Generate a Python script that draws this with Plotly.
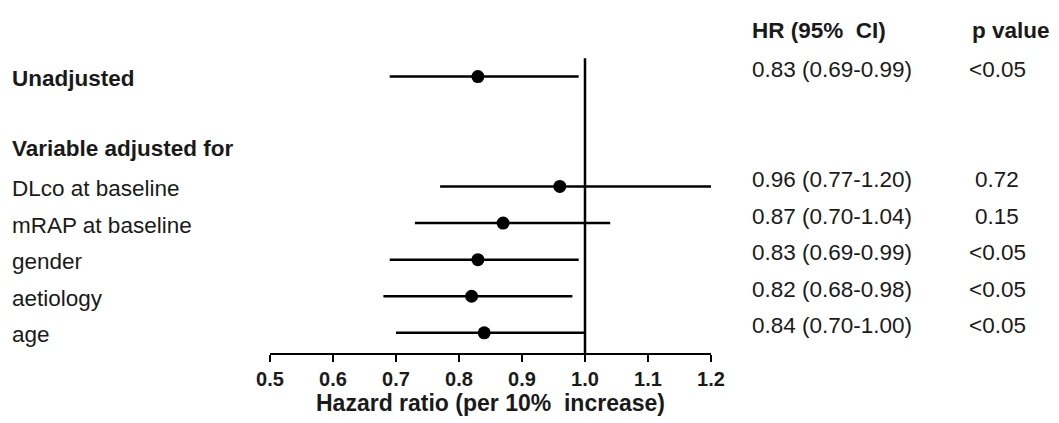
import plotly.graph_objects as go

# ---- data ----
row_labels = ["Unadjusted", "DLco at baseline", "mRAP at baseline", "gender", "aetiology", "age"]
row_bold = [True, False, False, False, False, False]
row_pos = [7, 4, 3, 2, 1, 0]
hr = [0.83, 0.96, 0.87, 0.83, 0.82, 0.84]
ci_low = [0.69, 0.77, 0.73, 0.69, 0.68, 0.70]
ci_high = [0.99, 1.20, 1.04, 0.99, 0.98, 1.00]
hr_text = ["0.83 (0.69-0.99)", "0.96 (0.77-1.20)", "0.87 (0.70-1.04)",
           "0.83 (0.69-0.99)", "0.82 (0.68-0.98)", "0.84 (0.70-1.00)"]
p_text = ["<0.05", "0.72", "0.15", "<0.05", "<0.05", "<0.05"]
group_header = "Variable adjusted for"
group_header_pos = 5
x_ticks = [0.5, 0.6, 0.7, 0.8, 0.9, 1.0, 1.1, 1.2]
ref_value = 1.0
x_title = "Hazard ratio (per 10%\u00a0 increase)"
col_headers = ["HR (95%\u00a0 CI)", "p value"]

FONT = "Liberation Sans, Arial, sans-serif"
TXT = "#1a1a1a"
FS = 22.5

fig = go.Figure()
fig.add_trace(go.Scatter(
    x=hr, y=row_pos, mode="markers",
    marker=dict(color="black", size=13),
    error_x=dict(type="data", symmetric=False,
                 array=[h - m for h, m in zip(ci_high, hr)],
                 arrayminus=[m - l for m, l in zip(hr, ci_low)],
                 color="black", thickness=2.5, width=0),
    cliponaxis=False, showlegend=False, hoverinfo="skip",
))

# reference line at HR = 1
fig.add_shape(type="line", xref="x", yref="y", x0=ref_value, x1=ref_value,
              y0=-0.55, y1=7.5, line=dict(color="black", width=2.5))

ann = []
for lab, b, y in zip(row_labels, row_bold, row_pos):
    ann.append(dict(x=10 / 1059, xref="paper", y=y, yref="y", text=lab,
                    xanchor="left", yanchor="middle", showarrow=False, yshift=-2,
                    font=dict(family=FONT, size=FS, color=TXT,
                              weight="bold" if b else "normal")))
ann.append(dict(x=10 / 1059, xref="paper", y=group_header_pos, yref="y", text=group_header,
                xanchor="left", yanchor="middle", showarrow=False, yshift=1,
                font=dict(family=FONT, size=FS, color=TXT, weight="bold")))
for t, p, y in zip(hr_text, p_text, row_pos):
    ann.append(dict(x=750 / 1059, xref="paper", y=y, yref="y", text=t,
                    xanchor="left", yanchor="middle", showarrow=False, yshift=7,
                    font=dict(family=FONT, size=FS, color=TXT)))
    ann.append(dict(x=997 / 1059, xref="paper", y=y, yref="y", text=p,
                    xanchor="center", yanchor="middle", showarrow=False, yshift=7,
                    font=dict(family=FONT, size=FS, color=TXT)))
ann.append(dict(x=750 / 1059, xref="paper", y=8.25, yref="y", text=col_headers[0],
                xanchor="left", yanchor="middle", showarrow=False,
                font=dict(family=FONT, size=FS, color=TXT, weight="bold")))
ann.append(dict(x=1011 / 1059, xref="paper", y=8.25, yref="y", text=col_headers[1],
                xanchor="center", yanchor="middle", showarrow=False,
                font=dict(family=FONT, size=FS, color=TXT, weight="bold")))

fig.update_layout(
    width=1059, height=423,
    margin=dict(l=0, r=0, t=18, b=70, pad=0, autoexpand=False),
    paper_bgcolor="white", plot_bgcolor="white",
    annotations=ann,
    xaxis=dict(domain=[270 / 1059, 711 / 1059], range=[0.5, 1.2], automargin=False,
               tickvals=x_ticks, tickformat=".1f",
               ticks="outside", ticklen=7, tickwidth=2, tickcolor="black",
               showline=True, linewidth=2, linecolor="black",
               showgrid=False, zeroline=False,
               tickfont=dict(family=FONT, size=20, color=TXT, weight="bold"),
               title=dict(text=x_title, standoff=6,
                          font=dict(family=FONT, size=23, color=TXT, weight="bold"))),
    yaxis=dict(range=[-0.55, 8.6], visible=False, automargin=False),
)

fig.write_html("out.html", config={"displayModeBar": False},
               post_script="document.body.style.margin='0';")
